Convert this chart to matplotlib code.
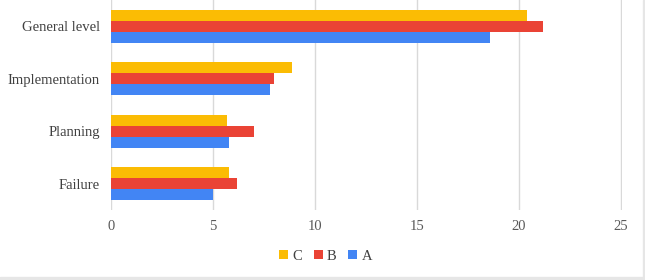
import matplotlib
matplotlib.use("Agg")
import matplotlib.pyplot as plt
import numpy as np
from matplotlib.patches import Rectangle

categories = ["General level", "Implementation", "Planning", "Failure"]
series_names = ["C", "B", "A"]
values_C = [20.4, 8.9, 5.7, 5.8]
values_B = [21.2, 8.0, 7.0, 6.2]
values_A = [18.6, 7.8, 5.8, 5.0]
colors = ["#FBBC04", "#EA4335", "#4285F4"]
xticks = [0, 5, 10, 15, 20, 25]

plt.rcParams['font.family'] = ['Liberation Serif', 'DejaVu Serif']
fig = plt.figure(figsize=(6.45, 2.8), dpi=100)
ax = fig.add_axes([0.172, 0.25, 0.792, 0.75])

n = len(categories)
y = np.arange(n)
h = 0.21
for i, (vals, col, name) in enumerate(zip([values_C, values_B, values_A], colors, series_names)):
    ax.barh(y + (i - 1) * h, vals, height=h, color=col, label=name, zorder=3)

ax.set_ylim(n - 0.5, -0.5)
ax.set_xlim(0, 25.05)
ax.set_xticks(xticks)
ax.set_yticks(y)
ax.set_yticklabels(categories)
for s in ax.spines.values():
    s.set_visible(False)
ax.grid(axis='x', color='#d9d9d9', linewidth=1, zorder=0)
ax.tick_params(axis='y', length=0, pad=8, labelsize=10.5, labelcolor='#404040')
ax.tick_params(axis='x', length=0, pad=7, labelsize=10.5, labelcolor='#595959')

leg = fig.legend(loc='center', bbox_to_anchor=(0.505, 0.085), ncol=3, frameon=False,
                 handlelength=0.6, handleheight=0.6, handletextpad=0.3, columnspacing=0.8,
                 fontsize=10.5)
for t in leg.get_texts():
    t.set_color('#404040')

fig.patches.append(Rectangle((0, 0), 1, 0.012, transform=fig.transFigure, color='#e6e6e6', zorder=0))
fig.patches.append(Rectangle((0.997, 0), 0.003, 1, transform=fig.transFigure, color='#e6e6e6', zorder=0))

fig.savefig("out.png", dpi=100)
